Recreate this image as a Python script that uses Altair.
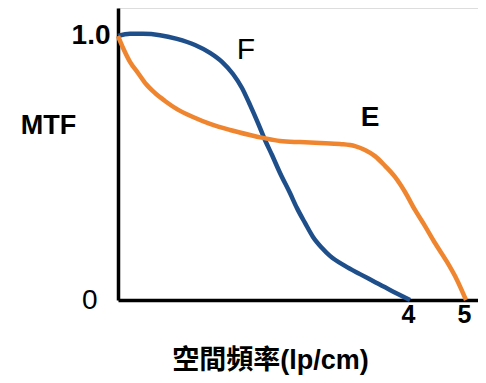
import altair as alt
import pandas as pd

# Curve F (blue) and curve E (orange)
f_x = [-1.214, -1.0, -0.768, -0.464, -0.161, 0.161, 0.429, 0.643, 0.839, 1.0, 1.143,
       1.286, 1.411, 1.536, 1.679, 1.857, 1.982, 2.125, 2.268, 2.429, 2.571, 2.839,
       3.107, 3.339, 3.643, 4.0]
f_y = [1.0, 1.008, 1.008, 1.003, 0.989, 0.966, 0.936, 0.902, 0.856, 0.803, 0.739,
       0.670, 0.606, 0.549, 0.481, 0.405, 0.348, 0.292, 0.239, 0.197, 0.167, 0.129,
       0.098, 0.072, 0.038, 0.0]
e_x = [-1.214, -1.107, -1.0, -0.857, -0.714, -0.554, -0.375, -0.161, 0.125, 0.429,
       0.786, 1.143, 1.375, 1.679, 2.036, 2.393, 2.75, 3.018, 3.196, 3.375, 3.554,
       3.732, 3.911, 4.089, 4.268, 4.446, 4.661, 4.839, 5.0]
e_y = [1.0, 0.947, 0.902, 0.860, 0.818, 0.784, 0.754, 0.723, 0.693, 0.667, 0.644,
       0.625, 0.614, 0.602, 0.598, 0.595, 0.591, 0.583, 0.568, 0.545, 0.508, 0.466,
       0.409, 0.341, 0.280, 0.216, 0.144, 0.076, 0.0]

x_ticks = [4, 5]
y_ticks = [0, 1]
series_names = ["F", "E"]
series_colors = ["#1f4f8b", "#f0852f"]
ann_f = {"label": ["F"], "x": [1.07], "y": [0.947]}
ann_e = {"label": ["E"], "x": [3.286], "y": [0.689]}

x_title = "空間頻率(lp/cm)"
y_title = "MTF"

df = pd.concat([
    pd.DataFrame({"x": f_x, "y": f_y, "s": "F", "o": range(len(f_x))}),
    pd.DataFrame({"x": e_x, "y": e_y, "s": "E", "o": range(len(e_x))}),
])

FONT = "Liberation Sans, Arial, Noto Sans CJK TC"

xs = alt.Scale(domain=[-1.214, 5.214], nice=False, zero=False)
ys = alt.Scale(domain=[0, 1.106], nice=False)

lines = alt.Chart(df).mark_line(strokeWidth=4.5, interpolate="monotone").encode(
    x=alt.X("x:Q", scale=xs, axis=alt.Axis(
        values=x_ticks, title=x_title, grid=False, ticks=False,
        domainColor="black", domainWidth=3.5,
        labelFont=FONT, labelFontSize=25, labelFontWeight="bold", labelColor="black",
        labelPadding=2, labelOffset=-2, labelFlush=False,
        titleFont=FONT, titleFontSize=27, titleFontWeight="bold", titleColor="black",
        titleX=152, titleY=60, titleBaseline="middle", titleAnchor="start",
        titleAlign="center",
    )),
    y=alt.Y("y:Q", scale=ys, axis=alt.Axis(
        values=y_ticks, title=y_title, grid=False, ticks=False,
        domainColor="black", domainWidth=3.5,
        labelExpr="datum.value == 1 ? '1.0' : '0'",
        labelFont=FONT, labelFontSize=28, labelColor="black",
        labelFontWeight={"condition": {"test": "datum.value == 1", "value": "bold"}, "value": "normal"},
        labelPadding={"condition": {"test": "datum.value == 0", "value": 21}, "value": 8},
        labelBaseline="middle",
        titleFont=FONT, titleFontSize=27, titleFontWeight="bold", titleColor="black",
        titleAngle=0, titleX=-70, titleY=117, titleAlign="center", titleBaseline="middle",
    )),
    color=alt.Color("s:N", scale=alt.Scale(domain=series_names, range=series_colors), legend=None),
    order="o:Q",
)

txt_f = alt.Chart(pd.DataFrame(ann_f)).mark_text(
    font=FONT, fontSize=30, fontWeight="normal", color="black"
).encode(x=alt.X("x:Q", scale=xs), y=alt.Y("y:Q", scale=ys), text="label:N")

txt_e = alt.Chart(pd.DataFrame(ann_e)).mark_text(
    font=FONT, fontSize=28, fontWeight="bold", color="black"
).encode(x=alt.X("x:Q", scale=xs), y=alt.Y("y:Q", scale=ys), text="label:N")

chart = alt.layer(lines, txt_f, txt_e).properties(
    width=360, height=292,
    autosize=alt.AutoSizeParams(type="none"),
    padding={"left": 110, "top": 0, "right": 0, "bottom": 75},
).configure_view(stroke=None).configure(background="white")

chart.save("out.html", embed_options={"renderer": "svg", "actions": False})
